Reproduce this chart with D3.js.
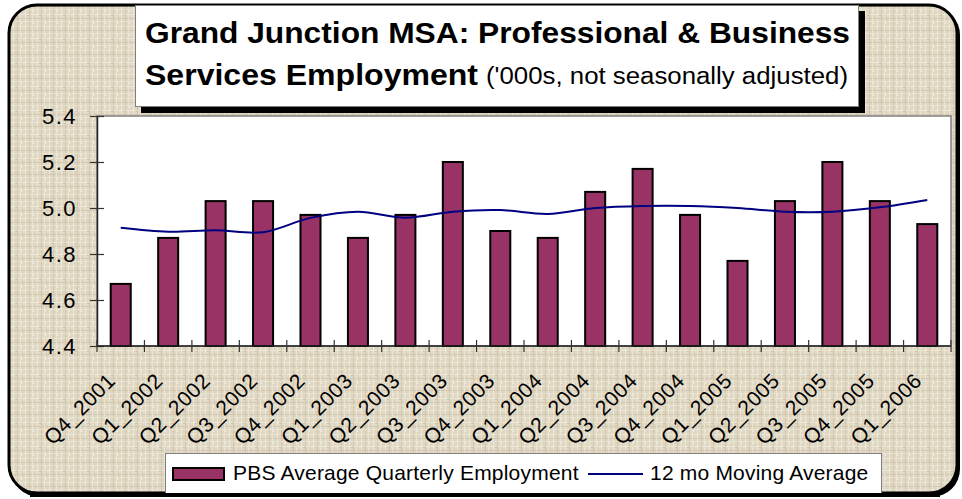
<!DOCTYPE html>
<html>
<head>
<meta charset="utf-8">
<script src="https://cdn.jsdelivr.net/npm/d3@7"></script>
<style>
  html, body { margin: 0; padding: 0; background: #ffffff; }
  svg { display: block; font-family: "Liberation Sans", Arial, sans-serif; }
</style>
</head>
<body>
<svg id="graph" width="962" height="499"></svg>
<script>
// data
const quarters = ["Q4_2001", "Q1_2002", "Q2_2002", "Q3_2002", "Q4_2002", "Q1_2003",
                  "Q2_2003", "Q3_2003", "Q4_2003", "Q1_2004", "Q2_2004", "Q3_2004",
                  "Q4_2004", "Q1_2005", "Q2_2005", "Q3_2005", "Q4_2005", "Q1_2006"];
const pbsEmployment = [4.67, 4.87, 5.03, 5.03, 4.97, 4.87, 4.97, 5.20, 4.90,
                       4.87, 5.07, 5.17, 4.97, 4.77, 5.03, 5.20, 5.03, 4.93];
const movingAverage = [4.914, 4.897, 4.903, 4.895, 4.957, 4.984, 4.958, 4.984, 4.991,
                       4.974, 5.000, 5.009, 5.009, 5.000, 4.984, 4.984, 5.003, 5.035];
const yTicks = [4.4, 4.6, 4.8, 5.0, 5.2, 5.4];
const legendLabels = ["PBS Average Quarterly Employment", "12 mo Moving Average"];

const WIDTH = 962, HEIGHT = 499;
const plot = {left: 97, right: 951, top: 116, bottom: 346};
const barColor = "#993366", lineColor = "#000080";

const svg = d3.select("#graph");
const defs = svg.append("defs");

// burlap-ish texture for the chart background
const pat = defs.append("pattern")
    .attr("id", "burlap")
    .attr("patternUnits", "userSpaceOnUse")
    .attr("width", 12).attr("height", 12);
pat.append("rect").attr("width", 12).attr("height", 12).attr("fill", "#e0d7c3");
[[1, "#f0eadd"], [5, "#cfc3ab"], [8, "#ebe4d4"]].forEach(([p, c]) => {
  pat.append("rect").attr("x", p).attr("y", 0).attr("width", 1).attr("height", 12).attr("fill", c).attr("opacity", 0.85);
  pat.append("rect").attr("x", 0).attr("y", p + 1).attr("width", 12).attr("height", 1).attr("fill", c).attr("opacity", 0.75);
});
pat.append("rect").attr("x", 3).attr("y", 3).attr("width", 2).attr("height", 1).attr("fill", "#c5b99f").attr("opacity", 0.6);
pat.append("rect").attr("x", 9).attr("y", 10).attr("width", 1).attr("height", 2).attr("fill", "#f5f1e8").attr("opacity", 0.8);

// outer frame
svg.append("rect")
    .attr("x", 11).attr("y", 7).attr("width", 949).attr("height", 490)
    .attr("rx", 28).attr("fill", "#000");
svg.append("rect")
    .attr("x", 9).attr("y", 5).attr("width", 948).attr("height", 488)
    .attr("rx", 28).attr("fill", "url(#burlap)")
    .attr("stroke", "#000").attr("stroke-width", 3);

// title box
svg.append("rect").attr("x", 141).attr("y", 11).attr("width", 724).attr("height", 102).attr("fill", "#000");
svg.append("rect").attr("x", 135.5).attr("y", 5.5).attr("width", 723).attr("height", 101)
    .attr("fill", "#fff").attr("stroke", "#808080");
svg.append("text")
    .attr("x", 145).attr("y", 43)
    .attr("font-size", 29).attr("font-weight", "bold")
    .attr("textLength", 705).attr("lengthAdjust", "spacingAndGlyphs")
    .text("Grand Junction MSA: Professional & Business");
svg.append("text")
    .attr("x", 145).attr("y", 85)
    .attr("font-size", 29).attr("font-weight", "bold")
    .attr("textLength", 333).attr("lengthAdjust", "spacingAndGlyphs")
    .text("Services Employment");
svg.append("text")
    .attr("x", 486).attr("y", 84)
    .attr("font-size", 23)
    .attr("textLength", 362).attr("lengthAdjust", "spacingAndGlyphs")
    .text("('000s, not seasonally adjusted)");

// scales
const x = d3.scaleBand()
    .domain(quarters)
    .range([plot.left, plot.right])
    .paddingInner(0.578)
    .paddingOuter(0.289);
const y = d3.scaleLinear()
    .domain([4.4, 5.4])
    .range([plot.bottom, plot.top]);
const step = x.step();

// plot area
svg.append("rect")
    .attr("x", plot.left).attr("y", plot.top)
    .attr("width", plot.right - plot.left).attr("height", plot.bottom - plot.top)
    .attr("fill", "#fff").attr("stroke", "#808080").attr("stroke-width", 1.5);

// bars
svg.append("g")
    .selectAll("rect")
    .data(pbsEmployment)
    .join("rect")
    .attr("x", (d, i) => x(quarters[i]))
    .attr("y", d => y(d))
    .attr("width", x.bandwidth())
    .attr("height", d => y(4.4) - y(d))
    .attr("fill", barColor)
    .attr("stroke", "#000").attr("stroke-width", 2);

// moving average line
const line = d3.line()
    .x((d, i) => x(quarters[i]) + x.bandwidth() / 2)
    .y(d => y(d))
    .curve(d3.curveCatmullRom.alpha(0.5));
svg.append("path")
    .datum(movingAverage)
    .attr("d", line)
    .attr("fill", "none")
    .attr("stroke", lineColor).attr("stroke-width", 2);

// y axis
const yAxis = svg.append("g")
    .attr("transform", `translate(${plot.left},0)`)
    .call(d3.axisLeft(y).tickValues(yTicks).tickFormat(d3.format(".1f")).tickSizeOuter(0));
yAxis.select(".domain").attr("stroke", "#222").attr("stroke-width", 1.5);
yAxis.selectAll(".tick line").attr("x1", 7).attr("x2", -7).attr("stroke", "#333").attr("stroke-width", 1.2);
yAxis.selectAll(".tick text")
    .attr("x", -20).attr("dy", "0.36em")
    .attr("font-size", 22).attr("letter-spacing", 1.5)
    .attr("font-family", "'Liberation Sans', Arial, sans-serif")
    .attr("fill", "#000");

// x axis: ticks at category boundaries, labels under bars
const xAxis = svg.append("g");
xAxis.append("line")
    .attr("x1", plot.left).attr("x2", plot.right)
    .attr("y1", plot.bottom).attr("y2", plot.bottom)
    .attr("stroke", "#222").attr("stroke-width", 1.5);
const boundaries = quarters.map(q => x(q) + x.bandwidth() / 2 - step / 2)
    .concat([x(quarters[quarters.length - 1]) + x.bandwidth() / 2 + step / 2]);
xAxis.selectAll("line.tick")
    .data(boundaries)
    .join("line")
    .attr("class", "tick")
    .attr("x1", d => d).attr("x2", d => d)
    .attr("y1", plot.bottom - 6).attr("y2", plot.bottom + 6)
    .attr("stroke", "#333").attr("stroke-width", 1.2);
xAxis.selectAll("text")
    .data(quarters)
    .join("text")
    .attr("transform", d => `translate(${x(d) + x.bandwidth() / 2 - 4},${plot.bottom + 36}) rotate(-45)`)
    .attr("text-anchor", "end")
    .attr("font-size", 21).attr("letter-spacing", 0.6)
    .text(d => d);

// legend
const legend = svg.append("g");
legend.append("rect")
    .attr("x", 165.5).attr("y", 453.5).attr("width", 716).attr("height", 42)
    .attr("fill", "#fff").attr("stroke", "#808080");
legend.append("rect")
    .attr("x", 173).attr("y", 468).attr("width", 51).attr("height", 12)
    .attr("fill", barColor).attr("stroke", "#000").attr("stroke-width", 2);
legend.append("text")
    .attr("x", 233).attr("y", 480)
    .attr("font-size", 21).attr("letter-spacing", 0.2)
    .text(legendLabels[0]);
legend.append("line")
    .attr("x1", 588).attr("x2", 643).attr("y1", 474).attr("y2", 474)
    .attr("stroke", lineColor).attr("stroke-width", 2);
legend.append("text")
    .attr("x", 650).attr("y", 480)
    .attr("font-size", 21).attr("letter-spacing", 0.2)
    .text(legendLabels[1]);

// frame bottom edge over the legend
svg.append("line")
    .attr("x1", 30).attr("x2", 940).attr("y1", 495).attr("y2", 495)
    .attr("stroke", "#000").attr("stroke-width", 4);
</script>
</body>
</html>
